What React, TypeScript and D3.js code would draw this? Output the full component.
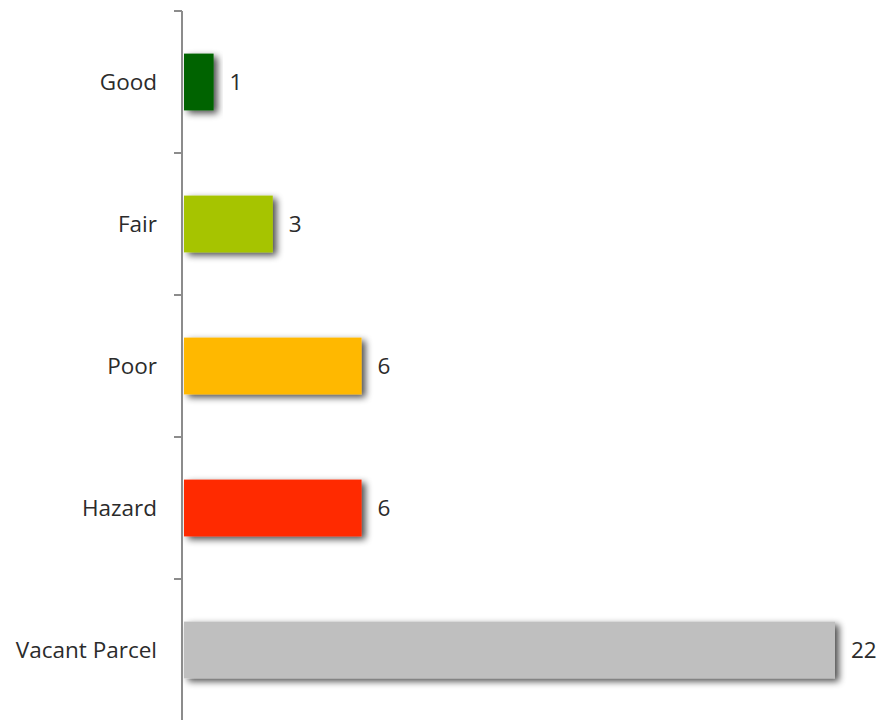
import React from "react";
import * as d3 from "d3";

const categories = ["Good", "Fair", "Poor", "Hazard", "Vacant Parcel"];
const values = [1, 3, 6, 6, 22];
const colors = ["#006400", "#a6c400", "#ffb800", "#ff2a00", "#bfbfbf"];

export default function App() {
  const W = 881, H = 720;
  const x0 = 184;
  const x = d3.scaleLinear().domain([0, 22]).range([x0, 835]);
  const y = d3.scaleBand<string>().domain(categories).range([11, 721]).paddingInner(0.6).paddingOuter(0.3);
  const step = y.step();
  const tickYs = d3.range(categories.length + 1).map((i) => 11 + i * step);
  const font = "'Open Sans', 'Noto Sans', sans-serif";
  return (
    <svg width={W} height={H} style={{ position: "absolute", left: 0, top: 0 }}>
      <defs>
        <filter id="sh" x="-20%" y="-30%" width="150%" height="170%">
          <feGaussianBlur in="SourceAlpha" stdDeviation="3.5" />
          <feOffset dx="4" dy="3" result="b" />
          <feComponentTransfer><feFuncA type="linear" slope="0.7" /></feComponentTransfer>
          <feMerge><feMergeNode /><feMergeNode in="SourceGraphic" /></feMerge>
        </filter>
      </defs>
      {categories.map((c, i) => (
        <g key={c}>
          <rect x={x(0)} y={y(c)!} width={x(values[i]) - x(0)} height={y.bandwidth()} fill={colors[i]} filter="url(#sh)" />
          <text x={x(values[i]) + 16} y={y(c)! + y.bandwidth() / 2} dy="0.35em" fontFamily={font} fontSize={22.5} fill="#2b2b2b">{values[i]}</text>
          <text x={157} y={y(c)! + y.bandwidth() / 2} dy="0.35em" textAnchor="end" fontFamily={font} fontSize={22.5} fill="#2b2b2b">{c}</text>
        </g>
      ))}
      <line x1={182} x2={182} y1={11} y2={720} stroke="#8c8c8c" strokeWidth={2} />
      {tickYs.map((t, i) => (
        <line key={i} x1={174} x2={182} y1={t} y2={t} stroke="#8c8c8c" strokeWidth={2} />
      ))}
    </svg>
  );
}
